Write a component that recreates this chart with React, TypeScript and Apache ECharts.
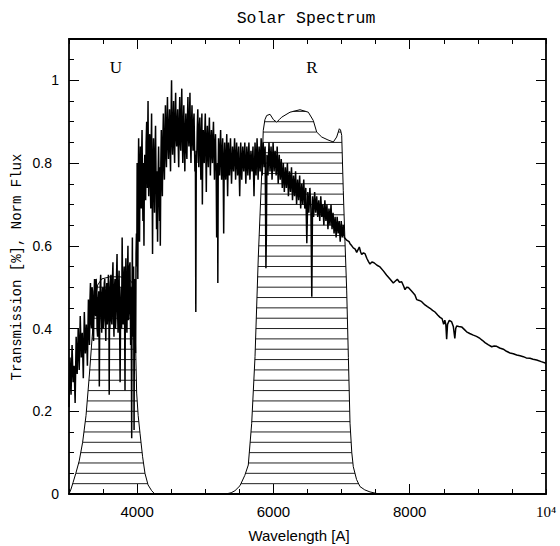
import React, { useEffect, useRef } from "react";
import * as echarts from "echarts";

const titleText = "Solar Spectrum";
const xAxisTitle = "Wavelength [A]";
const yAxisTitle = "Transmission [%], Norm Flux";
const xMajorTicks = [4000, 6000, 8000];
const xLabelValues = [4000, 6000, 8000, 10000];
const yMajorTicks = [0.2, 0.4, 0.6, 0.8, 1.0];
const yLabelValues = [0, 0.2, 0.4, 0.6, 0.8, 1.0];
const filterNames = ["U", "R"];

// U filter transmission [wavelength, value]
const uFilter = [
  [3000, 0], [3030, 0.012], [3060, 0.028], [3100, 0.05], [3150, 0.08], [3200, 0.125], [3250, 0.19],
  [3300, 0.29], [3340, 0.38], [3380, 0.46], [3420, 0.505], [3480, 0.52], [3600, 0.525], [3750, 0.525],
  [3880, 0.52], [3930, 0.51], [3965, 0.44], [3980, 0.34], [3993, 0.244], [4015, 0.19], [4042, 0.147],
  [4080, 0.09], [4115, 0.05], [4160, 0.022], [4213, 0.008], [4260, 0], [4300, 0],
];

// R filter transmission
const rFilter = [
  [5300, 0], [5380, 0.003], [5436, 0.008], [5509, 0.02], [5580, 0.045], [5631, 0.07], [5681, 0.171],
  [5730, 0.332], [5778, 0.573], [5828, 0.775], [5851, 0.879], [5875, 0.905], [5901, 0.915], [5950, 0.918],
  [6000, 0.905], [6048, 0.899], [6085, 0.905], [6121, 0.911], [6243, 0.923], [6390, 0.929], [6512, 0.923],
  [6585, 0.903], [6635, 0.875], [6709, 0.863], [6800, 0.856], [6879, 0.851], [6928, 0.863], [6967, 0.883],
  [6985, 0.88], [7002, 0.867], [7025, 0.734], [7050, 0.61], [7075, 0.493], [7100, 0.33], [7124, 0.171],
  [7150, 0.1], [7172, 0.066], [7220, 0.035], [7270, 0.018], [7340, 0.01], [7417, 0.005], [7550, 0],
];

// Normalised solar flux
const spectrum = [
  [3000, .21], [3015, .33], [3030, .24], [3045, .36], [3060, .27], [3075, .31], [3090, .22], [3105, .38], [3120, .29], [3135, .40],
  [3150, .30], [3165, .43], [3180, .33], [3195, .39], [3210, .28], [3225, .44], [3240, .34], [3255, .41], [3270, .31], [3285, .47],
  [3300, .36], [3308, .47], [3315, .51], [3322, .42], [3330, .40], [3338, .50], [3345, .49], [3352, .39], [3360, .37], [3368, .48],
  [3375, .52], [3382, .44], [3390, .43], [3398, .52], [3405, .50], [3412, .40], [3420, .38], [3428, .47], [3435, .49], [3440, .41],
  [3445, .26], [3450, .41], [3458, .50], [3465, .53], [3472, .44], [3480, .39], [3488, .48], [3495, .50], [3502, .40], [3510, .42],
  [3518, .51], [3525, .52], [3532, .43], [3540, .37], [3548, .49], [3555, .51], [3562, .41], [3570, .44], [3578, .53], [3585, .50],
  [3590, .24], [3595, .45], [3600, .40], [3608, .51], [3615, .53], [3622, .42], [3630, .41], [3638, .52], [3645, .56], [3652, .44],
  [3660, .38], [3668, .50], [3675, .52], [3682, .40], [3690, .43], [3698, .53], [3705, .58], [3712, .45], [3720, .39], [3728, .50],
  [3735, .54], [3742, .42], [3750, .27], [3758, .46], [3765, .50], [3772, .40], [3780, .62], [3788, .47], [3795, .41], [3802, .52],
  [3810, .55], [3816, .42], [3822, .25], [3828, .49], [3835, .57], [3842, .44], [3850, .39], [3858, .53], [3865, .60], [3872, .42],
  [3880, .44], [3888, .55], [3895, .56], [3900, .45], [3905, .36], [3912, .50], [3920, .135], [3925, .48], [3930, .62], [3935, .38],
  [3940, .42], [3948, .55], [3955, .155], [3960, .46], [3965, .52], [3972, .41], [3978, .34], [3984, .58], [3990, .63], [3995, .55],
  [4000, .80], [4005, .66], [4010, .52], [4016, .74], [4022, .86], [4028, .70], [4035, .61], [4042, .79], [4048, .84], [4054, .72],
  [4060, .69], [4066, .82], [4072, .88], [4078, .75], [4085, .66], [4092, .80], [4100, .60], [4106, .77], [4112, .82], [4118, .73],
  [4125, .71], [4132, .85], [4140, .90], [4145, .80], [4150, .74], [4155, .86], [4160, .95], [4165, .78], [4170, .72], [4178, .83],
  [4185, .87], [4192, .76], [4200, .69], [4206, .84], [4212, .92], [4216, .80], [4220, .76], [4226, .58], [4232, .79], [4240, .86],
  [4248, .74], [4255, .68], [4262, .82], [4270, .89], [4278, .75], [4285, .64], [4292, .78], [4300, .61], [4308, .77], [4315, .84],
  [4322, .74], [4330, .66], [4335, .79], [4340, .60], [4348, .80], [4355, .88], [4362, .77], [4370, .72], [4378, .86], [4385, .92],
  [4392, .80], [4400, .76], [4408, .87], [4415, .94], [4422, .83], [4430, .79], [4438, .90], [4445, .96], [4452, .85], [4460, .81],
  [4468, .89], [4475, .93], [4482, .84], [4490, .78], [4498, .91], [4505, 1.0], [4512, .86], [4520, .82], [4528, .90], [4535, .95],
  [4542, .85], [4550, .80], [4558, .91], [4565, .97], [4572, .87], [4580, .84], [4588, .90], [4595, .93], [4602, .85], [4610, .79],
  [4618, .90], [4625, .96], [4632, .86], [4640, .83], [4648, .92], [4655, .98], [4662, .87], [4670, .80], [4678, .89], [4685, .94],
  [4692, .85], [4700, .78], [4708, .88], [4715, .92], [4722, .84], [4730, .81], [4738, .90], [4745, .96], [4752, .87], [4760, .84],
  [4768, .91], [4775, .97], [4782, .86], [4790, .80], [4798, .89], [4805, .94], [4812, .86], [4820, .83], [4828, .90], [4835, .92],
  [4842, .84], [4848, .78], [4855, .82], [4861, .44], [4868, .83], [4875, .80], [4882, .88], [4890, .93], [4898, .85], [4905, .79],
  [4912, .88], [4920, .91], [4928, .83], [4935, .76], [4942, .86], [4950, .92], [4957, .70], [4963, .84], [4970, .88], [4978, .82],
  [4985, .80], [4992, .87], [5000, .92], [5008, .83], [5015, .73], [5022, .85], [5030, .89], [5038, .82], [5045, .79], [5052, .86],
  [5060, .91], [5068, .83], [5075, .77], [5082, .85], [5090, .88], [5098, .82], [5105, .80], [5112, .86], [5120, .90], [5128, .82],
  [5135, .76], [5142, .84], [5150, .87], [5155, .81], [5160, .78], [5167, .62], [5173, .70], [5180, .80], [5184, .51], [5190, .79],
  [5195, .86], [5202, .81], [5210, .77], [5218, .84], [5225, .88], [5232, .81], [5240, .76], [5248, .83], [5255, .86], [5262, .80],
  [5270, .63], [5278, .80], [5285, .85], [5292, .80],
  [5300, .76], [5315, .87], [5328, .72], [5340, .85], [5355, .77],
  [5370, .86], [5385, .75], [5400, .84], [5415, .78], [5430, .86], [5445, .76], [5460, .85], [5475, .77], [5490, .84], [5505, .72],
  [5520, .85], [5535, .76], [5550, .84], [5565, .78], [5580, .85], [5595, .75], [5610, .84], [5625, .77], [5640, .85], [5655, .76],
  [5670, .83], [5685, .78], [5700, .84], [5715, .72], [5730, .85], [5745, .77], [5760, .86], [5775, .76], [5790, .84], [5805, .78],
  [5820, .86], [5835, .77], [5850, .85], [5865, .79], [5878, .84], [5890, .546], [5896, .62], [5905, .82], [5920, .77], [5935, .85],
  [5950, .78], [5965, .84], [5980, .76], [5995, .85], [6010, .78], [6025, .83], [6040, .77], [6055, .84], [6070, .75], [6085, .82],
  [6100, .76], [6115, .81], [6130, .74], [6145, .80], [6160, .73], [6175, .79], [6190, .74], [6205, .80], [6220, .72], [6235, .78],
  [6250, .73], [6265, .79], [6280, .71], [6295, .77], [6310, .72], [6325, .78], [6340, .70], [6355, .76], [6370, .71], [6385, .77],
  [6400, .69], [6415, .75], [6430, .70], [6445, .76], [6460, .69], [6475, .74], [6490, .606], [6505, .73], [6520, .68], [6535, .74],
  [6550, .69], [6563, .477], [6575, .72], [6590, .67], [6605, .73], [6620, .68], [6635, .72], [6650, .67], [6665, .71], [6680, .66],
  [6695, .72], [6710, .67], [6725, .70], [6740, .65], [6755, .71], [6770, .66], [6785, .70], [6800, .64], [6815, .69], [6830, .65],
  [6845, .70], [6860, .64], [6875, .68], [6890, .63], [6905, .67], [6920, .62], [6935, .67], [6950, .63], [6965, .66], [6980, .61],
  [6995, .66], [7010, .62], [7025, .65], [7040, .62],
  [7050, .62], [7080, .613], [7110, .61], [7124, .605], [7150, .60], [7172, .595], [7200, .592], [7222, .584], [7240, .59], [7260, .597],
  [7280, .585], [7295, .579], [7320, .583], [7344, .581], [7370, .57], [7395, .562], [7417, .556], [7445, .561], [7476, .559], [7520, .553],
  [7564, .549], [7610, .54], [7662, .529], [7710, .52], [7759, .51], [7790, .515], [7818, .519], [7850, .512], [7882, .513], [7910, .503],
  [7931, .494], [7955, .50], [7980, .499], [8030, .49], [8077, .481], [8102, .47], [8140, .468], [8176, .465], [8224, .457], [8260, .453],
  [8298, .449], [8335, .444], [8371, .44], [8410, .433], [8445, .427], [8475, .424], [8498, .41], [8515, .42], [8530, .41], [8542, .374],
  [8555, .41], [8581, .42], [8600, .418], [8616, .416], [8640, .405], [8662, .376], [8675, .40], [8689, .406], [8720, .405], [8762, .404],
  [8800, .398], [8835, .392], [8880, .388], [8933, .384], [8980, .381], [9031, .376], [9070, .371], [9105, .366], [9150, .361], [9203, .356],
  [9240, .358], [9276, .357], [9320, .353], [9374, .35], [9420, .345], [9472, .341], [9520, .339], [9570, .336], [9620, .334], [9667, .332],
  [9710, .329], [9765, .328], [9810, .326], [9863, .324], [9930, .32], [10000, .316],
];

const X_MIN = 3000;
const X_MAX = 10000;
const Y_MIN = 0;
const Y_MAX = 1.1;
const HATCH_STEP = 0.025;
const BLACK = "#000";

function crossings(curve: number[][], level: number): number[][] {
  const xs: number[] = [];
  for (let i = 0; i < curve.length - 1; i++) {
    const [x0, y0] = curve[i];
    const [x1, y1] = curve[i + 1];
    if ((y0 < level && y1 >= level) || (y0 >= level && y1 < level)) {
      const t = (level - y0) / (y1 - y0);
      xs.push(x0 + t * (x1 - x0));
    }
  }
  xs.sort((a, b) => a - b);
  const segs: number[][] = [];
  for (let i = 0; i + 1 < xs.length; i += 2) segs.push([xs[i], xs[i + 1]]);
  return segs;
}

function xAxisDef(position: string, major: boolean, showLabel: boolean) {
  return {
    type: "value",
    position,
    min: X_MIN,
    max: X_MAX,
    interval: 500,
    axisLine: { show: !major, onZero: false, lineStyle: { color: BLACK, width: 1.8 } },
    axisTick: major
      ? { show: true, inside: true, length: 10, customValues: xMajorTicks, lineStyle: { color: BLACK, width: 1 } }
      : { show: true, inside: true, length: 5, lineStyle: { color: BLACK, width: 1 } },
    axisLabel: showLabel
      ? {
          show: true,
          margin: 10,
          color: BLACK,
          fontFamily: "Liberation Sans",
          fontSize: 15,
          showMinLabel: true,
          showMaxLabel: true,
          formatter: (v: number) =>
            xLabelValues.includes(v) ? (v === 10000 ? "{p|10⁴}" : String(v)) : "",
          rich: { p: { fontFamily: "Liberation Serif", fontSize: 15, color: BLACK } },
        }
      : { show: false },
    splitLine: { show: false },
  };
}

function yAxisDef(position: string, major: boolean, showLabel: boolean) {
  return {
    type: "value",
    position,
    min: Y_MIN,
    max: Y_MAX,
    interval: 0.05,
    axisLine: { show: !major, onZero: false, lineStyle: { color: BLACK, width: 1.8 } },
    axisTick: major
      ? { show: true, inside: true, length: 10, customValues: yMajorTicks, lineStyle: { color: BLACK, width: 1 } }
      : { show: true, inside: true, length: 5, lineStyle: { color: BLACK, width: 1 } },
    axisLabel: showLabel
      ? {
          show: true,
          margin: 10,
          color: BLACK,
          fontFamily: "Liberation Sans",
          fontSize: 14,
          showMaxLabel: true,
          formatter: (v: number) => {
            const hit = yLabelValues.find((t) => Math.abs(t - v) < 1e-6);
            if (hit === undefined) return "";
            if (hit === 0 || hit === 1) return "{i|" + String(hit) + "}";
            return "{d|" + hit.toFixed(1) + "}";
          },
          rich: {
            i: { fontFamily: "Liberation Sans", fontSize: 14, color: BLACK },
            d: { fontFamily: "Liberation Sans", fontSize: 14, color: BLACK, padding: [0, 7, 0, 0] },
          },
        }
      : { show: false },
    splitLine: { show: false },
  };
}

export default function App() {
  const ref = useRef<HTMLDivElement>(null);
  useEffect(() => {
    const chart = echarts.init(ref.current!, null, { renderer: "svg" });
    const filters = [uFilter, rFilter];
    const centered = { align: "center", verticalAlign: "middle", textAlign: "center", textVerticalAlign: "middle", fill: BLACK };
    const option: any = {
      animation: false,
      backgroundColor: "#fff",
      grid: { left: 69, right: 14, top: 39, bottom: 52, containLabel: false },
      xAxis: [
        xAxisDef("bottom", false, true),
        xAxisDef("bottom", true, false),
        xAxisDef("top", false, false),
        xAxisDef("top", true, false),
      ],
      yAxis: [
        yAxisDef("left", false, true),
        yAxisDef("left", true, false),
        yAxisDef("right", false, false),
        yAxisDef("right", true, false),
      ],
      graphic: [
        { type: "text", x: 306, y: 18, style: { ...centered, text: titleText, fontFamily: "Liberation Mono", fontSize: 16.5 } },
        { type: "text", x: 299, y: 535, style: { ...centered, text: xAxisTitle, fontFamily: "Liberation Sans", fontSize: 15 } },
        { type: "text", x: 17, y: 267, rotation: Math.PI / 2, style: { ...centered, text: yAxisTitle, fontFamily: "Liberation Mono", fontSize: 14 } },
        { type: "text", x: 116, y: 67, style: { ...centered, text: filterNames[0], fontFamily: "Liberation Serif", fontSize: 17 } },
        { type: "text", x: 312, y: 67, style: { ...centered, text: filterNames[1], fontFamily: "Liberation Serif", fontSize: 17 } },
      ],
      series: [
        {
          type: "custom",
          xAxisIndex: 0,
          yAxisIndex: 0,
          silent: true,
          z: 1,
          data: [[X_MIN, 0]],
          renderItem: (_params: any, api: any) => {
            const children: any[] = [];
            for (const curve of filters) {
              const peak = Math.max(...curve.map((p) => p[1]));
              for (let k = 1; k * HATCH_STEP < peak; k++) {
                const level = k * HATCH_STEP;
                for (const [a, b] of crossings(curve, level)) {
                  const p1 = api.coord([a, level]);
                  const p2 = api.coord([b, level]);
                  children.push({
                    type: "line",
                    shape: { x1: p1[0], y1: p1[1], x2: p2[0], y2: p2[1] },
                    style: { stroke: "#222", lineWidth: 1 },
                  });
                }
              }
            }
            return { type: "group", children };
          },
        },
        {
          type: "line", name: "U", data: uFilter, xAxisIndex: 0, yAxisIndex: 0,
          symbol: "none", showSymbol: false, silent: true, z: 2,
          lineStyle: { color: BLACK, width: 1 },
        },
        {
          type: "line", name: "R", data: rFilter, xAxisIndex: 0, yAxisIndex: 0,
          symbol: "none", showSymbol: false, silent: true, z: 2,
          lineStyle: { color: BLACK, width: 1 },
        },
        {
          type: "line", name: "Solar", data: spectrum, xAxisIndex: 0, yAxisIndex: 0,
          symbol: "none", showSymbol: false, silent: true, z: 3,
          lineStyle: { color: BLACK, width: 1.5 },
        },
      ],
    };
    chart.setOption(option);
    return () => chart.dispose();
  }, []);
  return (
    <div
      ref={ref}
      style={{ position: "absolute", left: 0, top: 0, width: 560, height: 546, background: "#fff" }}
    />
  );
}
